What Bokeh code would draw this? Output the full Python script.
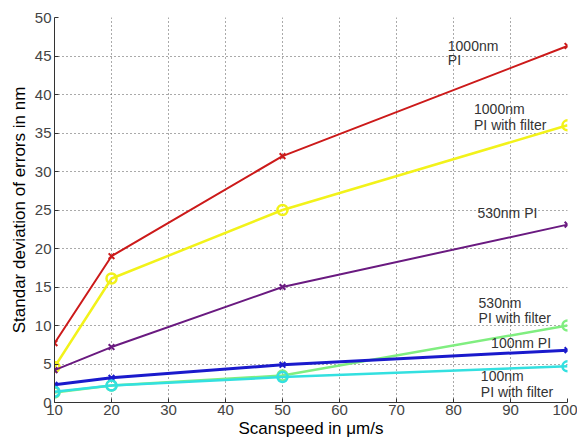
from bokeh.plotting import figure
from bokeh.models import Range1d, FixedTicker, Label
from bokeh.embed import file_html
from bokeh.resources import INLINE

speeds = [10, 20, 50, 100]
pi_1000 = [7.7, 19.0, 32.0, 46.3]
pi_1000_filter = [4.6, 16.1, 25.0, 36.0]
pi_530 = [4.2, 7.2, 15.0, 23.1]
pi_530_filter = [1.3, 2.2, 3.5, 10.0]
pi_100 = [2.3, 3.2, 4.9, 6.8]
pi_100_filter = [1.4, 2.2, 3.3, 4.7]

x_ticks = [10, 20, 30, 40, 50, 60, 70, 80, 90, 100]
y_ticks = [0, 5, 10, 15, 20, 25, 30, 35, 40, 45, 50]

series = [
    (pi_1000, "#cc1a1a", "x", 2),
    (pi_1000_filter, "#f2f21a", "circle", 2.5),
    (pi_530, "#6a1a80", "x", 2),
    (pi_530_filter, "#80ee80", "circle", 2.5),
    (pi_100, "#1a1acc", "x", 3),
    (pi_100_filter, "#33e0e0", "circle", 2.5),
]

labels = [
    (79, 45.3, "1000nm"), (79, 43.4, "PI"),
    (83.6, 37.1, "1000nm"), (83.6, 35.0, "PI with filter"),
    (84.2, 23.6, "530nm  PI"),
    (84.4, 11.9, "530nm"), (84.4, 9.9, "PI with filter"),
    (86.6, 6.7, "100nm PI"),
    (84.8, 2.4, "100nm"), (84.8, 0.3, "PI with filter"),
]

p = figure(width=577, height=441, output_backend="svg", toolbar_location=None,
           x_range=Range1d(10, 100), y_range=Range1d(0, 50),
           min_border_left=54, min_border_right=10, min_border_top=17, min_border_bottom=39)
p.outline_line_color = None
p.background_fill_color = "white"
p.border_fill_color = "white"

for ys, col, mk, lw in series:
    p.line(speeds, ys, line_color=col, line_width=lw)
    if mk == "x":
        p.scatter(speeds, ys, marker="x", size=8, line_color=col, line_width=2)
    else:
        p.scatter(speeds, ys, marker="circle", size=10, line_color=col, fill_color=None, line_width=2.5)

for xv, yv, t in labels:
    p.add_layout(Label(x=xv, y=yv, text=t, text_font="Liberation Sans", text_font_size="14px",
                       text_color="#333333", text_baseline="bottom"))

for ax in (p.xaxis[0], p.yaxis[0]):
    ax.major_label_text_font = "Liberation Sans"
    ax.major_label_text_font_size = "15px"
    ax.major_label_text_color = "#444444"
    ax.axis_label_text_font = "Liberation Sans"
    ax.axis_label_text_font_style = "normal"
    ax.axis_label_text_font_size = "17px"
    ax.axis_label_text_color = "black"
    ax.major_tick_in = 4
    ax.major_tick_out = 0
    ax.minor_tick_line_color = None
    ax.axis_line_color = "#333333"
    ax.major_tick_line_color = "#333333"

p.xaxis.ticker = FixedTicker(ticks=x_ticks)
p.yaxis.ticker = FixedTicker(ticks=y_ticks)
p.xaxis.axis_label = "Scanspeed in μm/s"
p.yaxis.axis_label = "Standar deviation of errors in nm"
p.xaxis.axis_label_standoff = 1
p.yaxis.axis_label_standoff = 3
p.xaxis.major_label_standoff = 2
p.yaxis.major_label_standoff = 3

p.grid.grid_line_color = "#555555"
p.grid.grid_line_dash = "1 3"
p.grid.grid_line_width = 1

open("out.html", "w").write(file_html(p, INLINE))
